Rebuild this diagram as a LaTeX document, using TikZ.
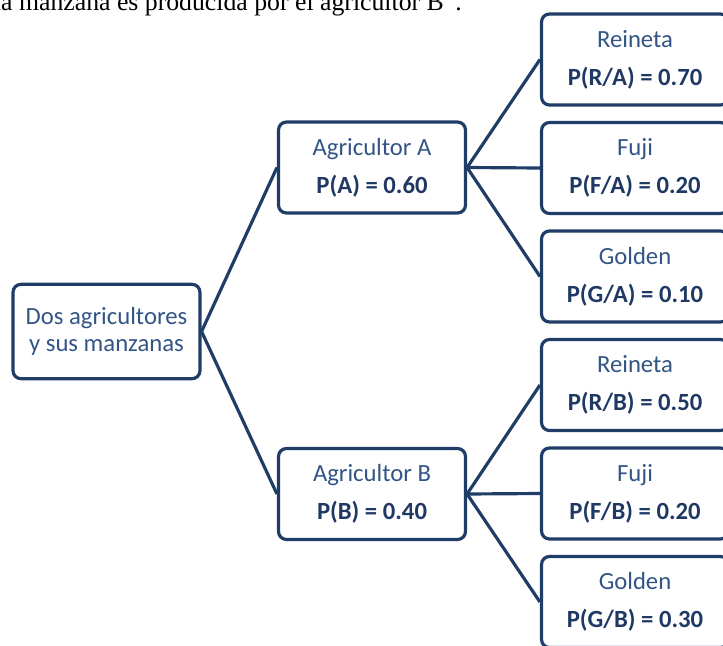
\documentclass[tikz,border=0pt]{standalone}
\usepackage{fontspec}
\setmainfont{Carlito}
\newfontfamily\introfont{Liberation Serif}
\usepackage{tikz}
\usetikzlibrary{positioning}
\definecolor{boxnavy}{HTML}{1F3D66}
\definecolor{txtblue}{HTML}{325586}
\definecolor{txtbold}{HTML}{1F3864}

\begin{document}
\begin{tikzpicture}[
    x=0.567pt, y=-0.567pt,
    treebox/.style={draw=boxnavy, line width=1.8pt, rounded corners=4.5pt, fill=white, align=center,
        minimum width=106pt, minimum height=51.6pt, inner sep=2pt, text=txtblue,
        font=\fontsize{14}{21.6}\selectfont},
    rootbox/.style={treebox, minimum height=53.5pt, font=\fontsize{14}{15.4}\selectfont},
    branch/.style={draw=boxnavy, line width=1.8pt},
    intro/.style={font=\introfont\fontsize{14.6}{16}\selectfont, text=black, inner sep=0pt}
]
\clip (0,0) rectangle (723,645);

\node[intro, anchor=base east] (caption) at (462,10) {la manzana es producida por el agricultor B”.};

\node[rootbox] (root) at (106.5,331.5) {Dos agricultores\\y sus manzanas};

\node[treebox] (agA) at (372,167.5) {Agricultor A\\\textcolor{txtbold}{\bfseries P(A) = 0.60}};
\node[treebox] (agB) at (372,494) {Agricultor B\\\textcolor{txtbold}{\bfseries P(B) = 0.40}};

\node[treebox] (rA) at (635,59.5) {Reineta\\\textcolor{txtbold}{\bfseries P(R/A) = 0.70}};
\node[treebox] (fA) at (635,168) {Fuji\\\textcolor{txtbold}{\bfseries P(F/A) = 0.20}};
\node[treebox] (gA) at (635,276.5) {Golden\\\textcolor{txtbold}{\bfseries P(G/A) = 0.10}};
\node[treebox] (rB) at (635,385) {Reineta\\\textcolor{txtbold}{\bfseries P(R/B) = 0.50}};
\node[treebox] (fB) at (635,493.5) {Fuji\\\textcolor{txtbold}{\bfseries P(F/B) = 0.20}};
\node[treebox] (gB) at (635,602) {Golden\\\textcolor{txtbold}{\bfseries P(G/B) = 0.30}};

\draw[branch] (root.east) -- (agA.west);
\draw[branch] (root.east) -- (agB.west);
\draw[branch] (agA.east) -- (rA.west);
\draw[branch] (agA.east) -- (fA.west);
\draw[branch] (agA.east) -- (gA.west);
\draw[branch] (agB.east) -- (rB.west);
\draw[branch] (agB.east) -- (fB.west);
\draw[branch] (agB.east) -- (gB.west);

\end{tikzpicture}
\end{document}
